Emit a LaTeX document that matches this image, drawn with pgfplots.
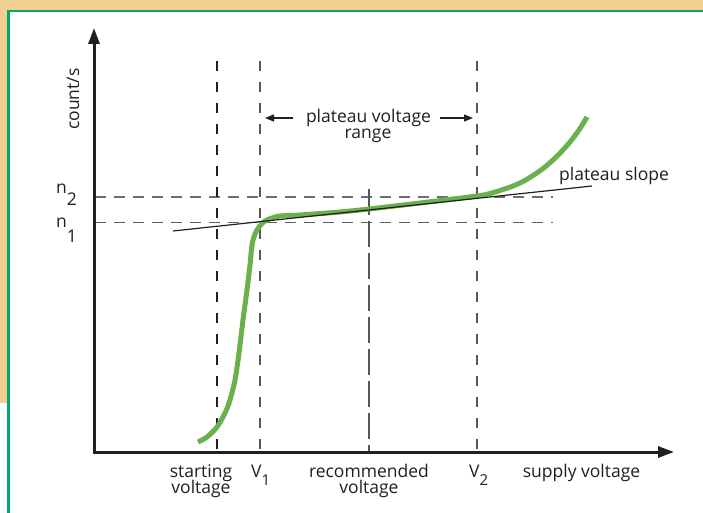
\documentclass[border=0pt]{standalone}
\usepackage{pgfplots}
\pgfplotsset{compat=1.18}
\usetikzlibrary{arrows.meta}
\usepackage{fontspec}
\setmainfont{Open Sans}
\definecolor{tanbg}{HTML}{F2CE8F}
\definecolor{framegreen}{HTML}{00A870}
\definecolor{curvegreen}{HTML}{6AB04C}
\definecolor{ink}{HTML}{231F20}
\definecolor{dgray}{HTML}{6D6E71}
\newcommand\subfont{\fontsize{15bp}{15bp}\selectfont}
\begin{document}
\begin{tikzpicture}[font=\fontsize{17.5bp}{17.5bp}\selectfont, text=ink]
\begin{axis}[
  width=703bp, height=513bp, scale only axis,
  xmin=0, xmax=703, ymin=0, ymax=513, y dir=reverse,
  hide axis, clip=true,
  every axis plot/.append style={no markers},
]
% background panel
\fill[white] (axis cs:0,0) rectangle (axis cs:703,513);
\fill[tanbg] (axis cs:0,0) rectangle (axis cs:703,10);
\fill[tanbg] (axis cs:0,0) rectangle (axis cs:7,403);
\addplot[framegreen, line width=2.6bp] coordinates {(8.2,513) (8.2,11.2) (703,11.2)};

% horizontal dashed reference lines (n1, n2)
\addplot[dgray, line width=1.4bp, dash pattern=on 11bp off 8bp] coordinates {(95,197) (553,197)};
\addplot[dgray!80!ink, line width=1.4bp, dash pattern=on 11bp off 8bp] coordinates {(95,222.5) (553,222.5)};

% vertical dashed lines
\addplot[ink, line width=1.4bp, dash pattern=on 10bp off 11bp] coordinates {(217,61) (217,452)};
\addplot[dgray!70!ink, line width=1.4bp, dash pattern=on 10bp off 11bp] coordinates {(260,61) (260,452)};
\addplot[dgray!70!ink, line width=1.4bp, dash pattern=on 10bp off 11bp] coordinates {(477,61) (477,452)};
\addplot[dgray!70!ink, line width=1.4bp, dash pattern=on 26bp off 6bp] coordinates {(369,189) (369,452)};

% counting curve
\addplot[curvegreen, line width=5bp, smooth, tension=0.5] coordinates {
 (198,442) (207,437) (217,427) (225,413) (230,400) (235,380) (239,353)
 (243,320) (247,290) (250,265) (252,245) (255,234) (259,227) (265,221)
 (272,218) (280,216) (300,215) (340,212) (369,209) (420,203) (477,196)
 (490,193.5) (500,190.5) (513,186) (523,181.5) (533,175.5) (543,168.5)
 (553,160) (562,151) (570,142) (579,130) (587,117)};

% plateau slope line
\addplot[ink, line width=1.2bp] coordinates {(173,231) (592,186)};

% axes
\addplot[ink, line width=3bp, line join=miter,
  {Triangle[length=16bp,width=11bp]}-{Triangle[length=16bp,width=11bp]}]
  coordinates {(94,28) (94,452) (674,452)};

% plateau range arrows
\addplot[ink, line width=1.3bp, -{Triangle[length=9bp,width=7bp]}] coordinates {(293,118) (265,118)};
\addplot[ink, line width=1.3bp, -{Triangle[length=9bp,width=7bp]}] coordinates {(440,118) (473,118)};

% labels
\node[anchor=base] at (axis cs:368.5,122) {plateau voltage};
\node[anchor=base] at (axis cs:368,138) {range};
\node[anchor=base] at (axis cs:614,180) {plateau slope};
\node[anchor=base] at (axis cs:201,477) {starting};
\node[anchor=base] at (axis cs:201,493) {voltage};
\node[anchor=base] at (axis cs:369,477) {recommended};
\node[anchor=base] at (axis cs:369,493) {voltage};
\node[anchor=base] at (axis cs:581.5,477) {supply voltage};
\node[anchor=base west, inner sep=0pt] at (axis cs:251,477) {V\raisebox{-8bp}{\subfont 1}};
\node[anchor=base west, inner sep=0pt] at (axis cs:469,477) {V\raisebox{-8bp}{\subfont 2}};
\node[anchor=base west, inner sep=0pt] at (axis cs:56,193) {n\raisebox{-12bp}{2}};
\node[anchor=base west, inner sep=0pt] at (axis cs:56,227) {n\raisebox{-15bp}{1}};
\node[anchor=base, rotate=90, inner sep=0pt] at (axis cs:79,99) {count/s};
\end{axis}
\pgfresetboundingbox
\path (0,0) rectangle (703bp,513bp);
\end{tikzpicture}
\end{document}
